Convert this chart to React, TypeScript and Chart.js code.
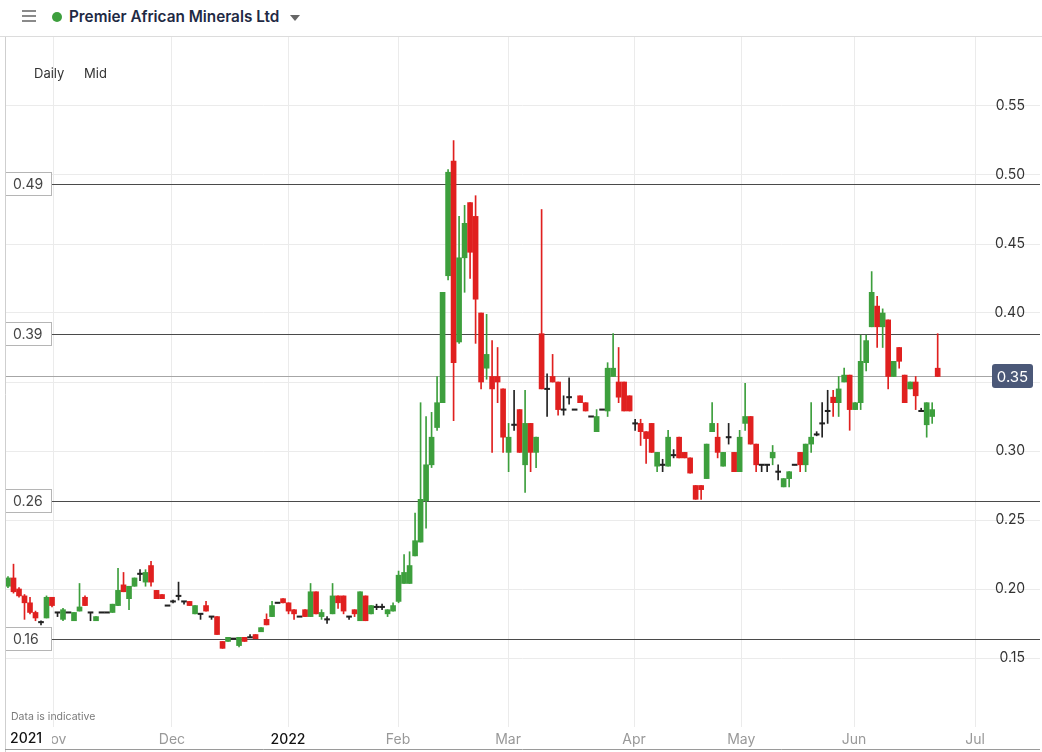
import React, { useEffect, useRef } from 'react';
import { Chart, registerables } from 'chart.js';

Chart.register(...registerables);

// ---------- data (trading-day index 0..169, late Oct 2021 -> late Jun 2022) ----------
const opens = [
  0.202, 0.208, 0.200, 0.195, 0.190, 0.183, 0.176, 0.179, 0.194, 0.183,
  0.178, 0.183, 0.177, 0.184, 0.194, 0.183, 0.177, 0.183, 0.183, 0.183,
  0.188, 0.203, 0.193, 0.202, 0.211, 0.205, 0.217, 0.199, 0.196, 0.188,
  0.191, 0.195, 0.191, 0.191, 0.182, 0.182, 0.188, 0.180, 0.180, 0.162,
  0.162, 0.164, 0.159, 0.165, 0.165, 0.167, 0.169, 0.178, 0.180, 0.190,
  0.193, 0.190, 0.185, 0.180, 0.185, 0.180, 0.198, 0.180, 0.178, 0.182,
  0.195, 0.195, 0.180, 0.185, 0.177, 0.195, 0.182, 0.187, 0.187, 0.182,
  0.184, 0.191, 0.204, 0.204, 0.224, 0.234, 0.264, 0.290, 0.317, 0.335,
  0.427, 0.510, 0.379, 0.440, 0.480, 0.470, 0.400, 0.360, 0.354, 0.354,
  0.345, 0.299, 0.319, 0.330, 0.290, 0.320, 0.299, 0.385, 0.345, 0.354,
  0.350, 0.330, 0.339, 0.330, 0.340, 0.335, 0.325, 0.314, 0.330, 0.329,
  0.354, 0.350, 0.350, 0.340, 0.320, 0.320, 0.314, 0.320, 0.289, 0.290,
  0.289, 0.297, 0.310, 0.299, 0.295, 0.275, 0.275, 0.280, 0.314, 0.310,
  0.289, 0.310, 0.299, 0.285, 0.320, 0.325, 0.305, 0.290, 0.290, 0.295,
  0.285, 0.274, 0.280, 0.290, 0.299, 0.290, 0.305, 0.312, 0.320, 0.329,
  0.339, 0.335, 0.350, 0.355, 0.330, 0.335, 0.364, 0.390, 0.405, 0.390,
  0.395, 0.354, 0.375, 0.355, 0.345, 0.350, 0.329, 0.319, 0.325, 0.360,
];
const closes = [
  0.208, 0.198, 0.195, 0.190, 0.183, 0.179, 0.176, 0.194, 0.188, 0.183,
  0.185, 0.183, 0.183, 0.187, 0.188, 0.183, 0.180, 0.183, 0.183, 0.189,
  0.199, 0.198, 0.202, 0.208, 0.211, 0.212, 0.205, 0.193, 0.193, 0.188,
  0.191, 0.195, 0.191, 0.188, 0.188, 0.182, 0.184, 0.180, 0.167, 0.157,
  0.165, 0.164, 0.165, 0.162, 0.165, 0.164, 0.172, 0.174, 0.188, 0.190,
  0.190, 0.184, 0.182, 0.180, 0.180, 0.198, 0.182, 0.183, 0.178, 0.195,
  0.190, 0.184, 0.180, 0.182, 0.198, 0.177, 0.188, 0.187, 0.187, 0.185,
  0.188, 0.210, 0.212, 0.217, 0.235, 0.265, 0.290, 0.310, 0.335, 0.415,
  0.502, 0.364, 0.440, 0.465, 0.444, 0.410, 0.350, 0.370, 0.345, 0.350,
  0.310, 0.310, 0.319, 0.299, 0.320, 0.299, 0.310, 0.345, 0.345, 0.350,
  0.330, 0.330, 0.339, 0.330, 0.335, 0.329, 0.325, 0.325, 0.330, 0.360,
  0.360, 0.339, 0.329, 0.329, 0.320, 0.314, 0.309, 0.299, 0.299, 0.290,
  0.310, 0.297, 0.295, 0.295, 0.284, 0.265, 0.272, 0.305, 0.320, 0.299,
  0.299, 0.310, 0.285, 0.310, 0.325, 0.305, 0.290, 0.290, 0.290, 0.299,
  0.285, 0.280, 0.285, 0.290, 0.290, 0.305, 0.310, 0.312, 0.320, 0.329,
  0.335, 0.345, 0.355, 0.330, 0.335, 0.365, 0.380, 0.415, 0.390, 0.400,
  0.354, 0.365, 0.365, 0.335, 0.350, 0.340, 0.329, 0.335, 0.330, 0.354,
];
const highs = [
  0.209, 0.218, 0.201, 0.196, 0.194, 0.184, 0.177, 0.195, 0.194, 0.183,
  0.186, 0.183, 0.183, 0.204, 0.195, 0.183, 0.180, 0.183, 0.183, 0.189,
  0.215, 0.212, 0.202, 0.208, 0.214, 0.214, 0.220, 0.199, 0.196, 0.188,
  0.192, 0.205, 0.191, 0.191, 0.188, 0.182, 0.191, 0.180, 0.180, 0.162,
  0.165, 0.164, 0.165, 0.165, 0.167, 0.167, 0.172, 0.182, 0.191, 0.190,
  0.193, 0.190, 0.185, 0.180, 0.185, 0.204, 0.198, 0.185, 0.180, 0.204,
  0.195, 0.195, 0.180, 0.185, 0.198, 0.195, 0.188, 0.189, 0.189, 0.185,
  0.190, 0.213, 0.225, 0.227, 0.255, 0.335, 0.325, 0.328, 0.354, 0.415,
  0.504, 0.525, 0.470, 0.478, 0.480, 0.485, 0.400, 0.399, 0.380, 0.375,
  0.345, 0.320, 0.344, 0.330, 0.344, 0.320, 0.310, 0.475, 0.356, 0.370,
  0.350, 0.340, 0.353, 0.330, 0.340, 0.335, 0.325, 0.330, 0.330, 0.364,
  0.385, 0.375, 0.350, 0.340, 0.323, 0.323, 0.314, 0.320, 0.299, 0.294,
  0.315, 0.301, 0.310, 0.299, 0.295, 0.275, 0.275, 0.305, 0.335, 0.320,
  0.299, 0.320, 0.299, 0.315, 0.349, 0.325, 0.305, 0.290, 0.290, 0.304,
  0.290, 0.280, 0.285, 0.290, 0.299, 0.305, 0.335, 0.314, 0.335, 0.344,
  0.344, 0.354, 0.360, 0.355, 0.335, 0.384, 0.384, 0.430, 0.412, 0.403,
  0.395, 0.365, 0.375, 0.355, 0.350, 0.354, 0.331, 0.335, 0.335, 0.385,
];
const lows = [
  0.201, 0.197, 0.194, 0.178, 0.182, 0.177, 0.174, 0.179, 0.187, 0.180,
  0.177, 0.183, 0.177, 0.184, 0.188, 0.177, 0.177, 0.183, 0.183, 0.183,
  0.188, 0.198, 0.185, 0.202, 0.206, 0.202, 0.202, 0.193, 0.193, 0.188,
  0.190, 0.192, 0.189, 0.188, 0.182, 0.178, 0.184, 0.178, 0.167, 0.157,
  0.162, 0.164, 0.158, 0.162, 0.165, 0.164, 0.169, 0.174, 0.180, 0.190,
  0.190, 0.182, 0.178, 0.180, 0.180, 0.180, 0.182, 0.178, 0.175, 0.182,
  0.186, 0.182, 0.178, 0.180, 0.177, 0.177, 0.182, 0.185, 0.185, 0.180,
  0.184, 0.190, 0.204, 0.204, 0.224, 0.234, 0.244, 0.288, 0.315, 0.335,
  0.424, 0.322, 0.378, 0.415, 0.425, 0.378, 0.345, 0.352, 0.299, 0.335,
  0.299, 0.285, 0.315, 0.299, 0.270, 0.285, 0.288, 0.345, 0.325, 0.350,
  0.326, 0.326, 0.334, 0.330, 0.335, 0.329, 0.325, 0.314, 0.330, 0.325,
  0.354, 0.335, 0.329, 0.329, 0.315, 0.304, 0.291, 0.299, 0.285, 0.285,
  0.289, 0.295, 0.295, 0.295, 0.284, 0.265, 0.265, 0.280, 0.314, 0.295,
  0.289, 0.305, 0.285, 0.285, 0.315, 0.305, 0.285, 0.285, 0.285, 0.290,
  0.279, 0.274, 0.274, 0.290, 0.285, 0.285, 0.299, 0.311, 0.310, 0.320,
  0.325, 0.325, 0.350, 0.315, 0.330, 0.330, 0.358, 0.390, 0.375, 0.375,
  0.345, 0.354, 0.360, 0.335, 0.345, 0.330, 0.329, 0.310, 0.320, 0.354,
];

const monthTickIdx = [8.2, 29.8, 50.9, 70.9, 90.9, 113.8, 133.3, 153.8, 175.8];
const monthTickLabels = ['Nov', 'Dec', '2022', 'Feb', 'Mar', 'Apr', 'May', 'Jun', 'Jul'];
const yearStartLabel = '2021';
const yTickValues = [0.15, 0.2, 0.25, 0.3, 0.35, 0.4, 0.45, 0.5, 0.55];
const levelValues = [0.4935, 0.385, 0.2638, 0.1638];
const levelLabels = ['0.49', '0.39', '0.26', '0.16'];
const lastPrice = 0.3543;
const lastPriceLabel = '0.35';

const UP = '#3d9f3d';
const DOWN = '#e0201f';
const FLAT = '#222222';
const FONT = 'Inter, "Noto Sans", sans-serif';

const candleColor = (i: number) =>
  closes[i] > opens[i] ? UP : closes[i] < opens[i] ? DOWN : FLAT;

const overlayPlugin = {
  id: 'overlay',
  beforeDatasetsDraw(chart: any) {
    const { ctx, scales } = chart;
    const y = scales.y;
    const area = chart.chartArea;
    ctx.save();
    ctx.lineWidth = 1;
    ctx.strokeStyle = '#4a4a4a';
    levelValues.forEach((v) => {
      const py = Math.round(y.getPixelForValue(v)) + 0.5;
      ctx.beginPath();
      ctx.moveTo(52, py);
      ctx.lineTo(area.right, py);
      ctx.stroke();
    });
    const lp = Math.round(y.getPixelForValue(lastPrice)) + 0.5;
    ctx.strokeStyle = '#a6a6a6';
    ctx.beginPath();
    ctx.moveTo(area.left, lp);
    ctx.lineTo(992, lp);
    ctx.stroke();
    ctx.restore();
  },
  afterDraw(chart: any) {
    const { ctx, scales } = chart;
    const y = scales.y;
    const area = chart.chartArea;
    ctx.save();
    // level label boxes
    ctx.font = `14px ${FONT}`;
    ctx.textBaseline = 'middle';
    ctx.textAlign = 'left';
    levelValues.forEach((v, k) => {
      const py = Math.round(y.getPixelForValue(v));
      ctx.fillStyle = '#ffffff';
      ctx.fillRect(5, py - 12, 47, 24);
      ctx.strokeStyle = '#b5b5b5';
      ctx.lineWidth = 1;
      ctx.strokeRect(5.5, py - 11.5, 46, 23);
      ctx.fillStyle = '#444';
      ctx.fillText(levelLabels[k], 13, py + 1);
    });
    // last price tag
    const lp = Math.round(y.getPixelForValue(lastPrice));
    ctx.fillStyle = '#4b5878';
    ctx.beginPath();
    (ctx as any).roundRect(992, lp - 12, 41, 24, 3);
    ctx.fill();
    ctx.fillStyle = '#ffffff';
    ctx.font = `15px ${FONT}`;
    ctx.textAlign = 'center';
    ctx.fillText(lastPriceLabel, 1012.5, lp + 1);
    // left border
    ctx.strokeStyle = '#cfcfcf';
    ctx.lineWidth = 1;
    ctx.beginPath();
    ctx.moveTo(area.left + 0.5, area.top);
    ctx.lineTo(area.left + 0.5, 752);
    ctx.stroke();
    // bottom line
    ctx.strokeStyle = '#9a9a9a';
    ctx.beginPath();
    ctx.moveTo(area.left, 749.5);
    ctx.lineTo(area.right, 749.5);
    ctx.stroke();
    // note
    ctx.fillStyle = '#7a7a7a';
    ctx.font = `10.5px ${FONT}`;
    ctx.textAlign = 'left';
    ctx.fillText('Data is indicative', 11, 717);
    // year start label (covers the start of the first month label)
    ctx.fillStyle = '#ffffff';
    ctx.fillRect(6, 729, 46, 19);
    ctx.fillStyle = '#111';
    ctx.font = `500 14px ${FONT}`;
    ctx.fillText(yearStartLabel, 10, 739);
    ctx.restore();
  },
};

export default function App() {
  const canvasRef = useRef<HTMLCanvasElement | null>(null);

  useEffect(() => {
    const canvas = canvasRef.current;
    if (!canvas) return;
    const idx = opens.map((_, i) => i);
    const colors = idx.map(candleColor);
    const chart = new Chart(canvas, {
      type: 'bar',
      data: {
        datasets: [
          {
            label: 'wick',
            data: idx.map((i) => ({ x: i, y: [lows[i], highs[i]] })) as any,
            backgroundColor: colors,
            barThickness: 1,
            grouped: false,
            order: 2,
          } as any,
          {
            label: 'body',
            data: idx.map((i) => ({
              x: i,
              y:
                opens[i] === closes[i]
                  ? [closes[i] - 0.0005, closes[i] + 0.0005]
                  : [opens[i], closes[i]],
            })) as any,
            backgroundColor: colors,
            barThickness: 5,
            grouped: false,
            order: 1,
          } as any,
        ],
      },
      options: {
        animation: false,
        responsive: false,
        maintainAspectRatio: false,
        layout: { padding: { left: 5, right: 2, top: 37, bottom: 0 } },
        plugins: { legend: { display: false }, tooltip: { enabled: false } },
        scales: {
          x: {
            type: 'linear',
            min: -0.545,
            max: 187.6,
            offset: false,
            border: { display: false },
            grid: { color: '#ebebeb', drawTicks: false, offset: false },
            afterBuildTicks: (scale: any) => {
              scale.ticks = monthTickIdx.map((v) => ({ value: v }));
            },
            afterFit: (scale: any) => {
              scale.height = 25;
            },
            ticks: {
              autoSkip: false,
              maxRotation: 0,
              padding: 4,
              callback: (_v: any, i: number) => monthTickLabels[i],
              color: (c: any) => (/^\d{4}$/.test(monthTickLabels[c.index] || '') ? '#111' : '#999'),
              font: (c: any) => ({
                family: FONT,
                size: 14,
                weight: /^\d{4}$/.test(monthTickLabels[c.index] || '') ? '500' : 'normal',
              }),
            },
          } as any,
          y: {
            type: 'linear',
            position: 'right',
            min: 0.1,
            max: 0.6,
            border: { display: false },
            grid: { color: '#ebebeb', drawTicks: false },
            afterBuildTicks: (scale: any) => {
              scale.ticks = yTickValues.map((v) => ({ value: v }));
            },
            afterFit: (scale: any) => {
              scale.width = 0;
              scale.paddingTop = 0;
              scale.paddingBottom = 0;
            },
            ticks: {
              mirror: true,
              crossAlign: 'near',
              padding: -15,
              color: '#333',
              font: { family: FONT, size: 14 },
              callback: (v: any) => Number(v).toFixed(2),
            },
          } as any,
        },
      },
      plugins: [overlayPlugin],
    });
    return () => chart.destroy();
  }, []);

  return (
    <div
      style={{
        position: 'fixed',
        left: 0,
        top: 0,
        width: 1042,
        height: 752,
        background: '#fff',
        fontFamily: FONT,
        overflow: 'hidden',
      }}
    >
      <canvas ref={canvasRef} width={1042} height={752} style={{ position: 'absolute', left: 0, top: 0 }} />
      <div
        style={{
          position: 'absolute',
          left: 0,
          top: 0,
          width: 1042,
          height: 36,
          borderBottom: '1px solid #dcdcdc',
          background: '#fff',
        }}
      >
        <div style={{ position: 'absolute', left: 22, top: 10, width: 14 }}>
          {[0, 5, 10].map((t) => (
            <div key={t} style={{ position: 'absolute', top: t, left: 0, width: 14, height: 2, background: '#8a8a8a' }} />
          ))}
        </div>
        <div
          style={{
            position: 'absolute',
            left: 52,
            top: 12,
            width: 10,
            height: 10,
            borderRadius: 5,
            background: '#3d9f3d',
          }}
        />
        <div
          style={{
            position: 'absolute',
            left: 69,
            top: 7,
            fontSize: 15.3,
            fontWeight: 600,
            color: '#1f2a44',
            whiteSpace: 'nowrap',
          }}
        >
          Premier African Minerals Ltd
        </div>
        <div
          style={{
            position: 'absolute',
            left: 290,
            top: 15,
            width: 0,
            height: 0,
            borderLeft: '5px solid transparent',
            borderRight: '5px solid transparent',
            borderTop: '6px solid #666',
          }}
        />
      </div>
      <div style={{ position: 'absolute', left: 34, top: 65, fontSize: 13, color: '#333' }}>Daily</div>
      <div style={{ position: 'absolute', left: 84, top: 65, fontSize: 13, color: '#333' }}>Mid</div>
    </div>
  );
}
